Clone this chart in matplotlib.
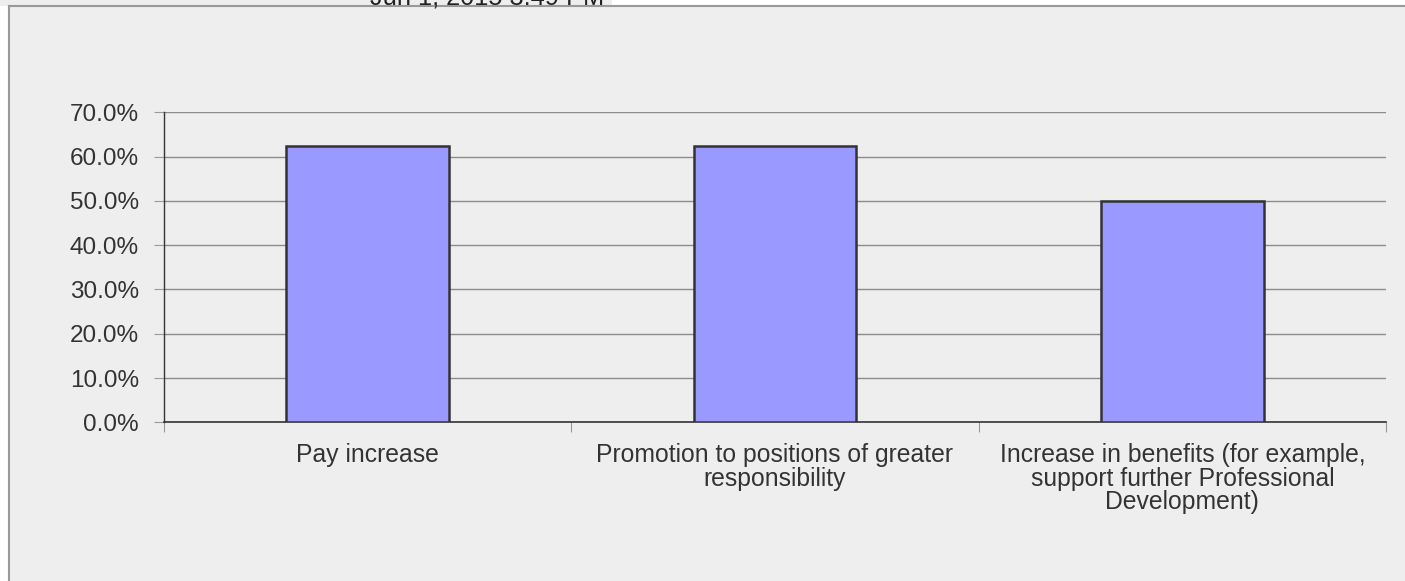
import matplotlib
matplotlib.use("Agg")
import matplotlib.pyplot as plt
from matplotlib.patches import Rectangle
from matplotlib.lines import Line2D

categories = [
    "Pay increase",
    "Promotion to positions of greater\nresponsibility",
    "Increase in benefits (for example,\nsupport further Professional\nDevelopment)",
]
values = [0.625, 0.625, 0.50]
yticks = [0.0, 0.1, 0.2, 0.3, 0.4, 0.5, 0.6, 0.7]
ytick_labels = ["0.0%", "10.0%", "20.0%", "30.0%", "40.0%", "50.0%", "60.0%", "70.0%"]
header_text = "Jun 1, 2015 3:49 PM"

plt.rcParams['font.family'] = ['Liberation Sans', 'DejaVu Sans']

W, H = 1405, 581
fig = plt.figure(figsize=(W / 100, H / 100), dpi=100, facecolor="white")

# top strip (clipped header)
fig.patches.append(Rectangle((0, 1 - 6 / H), 612 / W, 6 / H, transform=fig.transFigure,
                             facecolor="#eeeeee", edgecolor="none", zorder=-10))
fig.text(370 / W, 1 - 4 / H, header_text, fontsize=18.3, color="#222222",
         va="baseline", ha="left", zorder=-5)

# panel
fig.patches.append(Rectangle((9 / W, 0), 1 - 9 / W, 1 - 6 / H, transform=fig.transFigure,
                             facecolor="#eeeeee", edgecolor="none", zorder=-10))
fig.lines.append(Line2D([9 / W, 9 / W], [0, 1 - 6 / H], transform=fig.transFigure,
                        color="#999999", lw=1.5, zorder=-5))
fig.lines.append(Line2D([9 / W, 1], [1 - 6 / H, 1 - 6 / H], transform=fig.transFigure,
                        color="#999999", lw=1.5, zorder=-5))

ax = fig.add_axes([164 / W, (H - 422.3) / H, (1386 - 164) / W, (422.3 - 112.3) / H])
ax.set_facecolor("none")
ax.set_zorder(1)

x = list(range(len(categories)))
ax.bar(x, values, width=0.4, color="#9999ff", edgecolor="#333333", linewidth=1.8, zorder=3)

ax.set_xlim(-0.5, len(categories) - 0.5)
ax.set_ylim(0, 0.7)
ax.set_yticks(yticks)
ax.set_yticklabels(ytick_labels, fontsize=17.5, color="#333333")
ax.yaxis.grid(True, color="#8c8c8c", linewidth=1, zorder=0)
ax.set_axisbelow(True)

ax.set_xticks([i - 0.5 for i in range(len(categories) + 1)])
ax.set_xticklabels([])
ax.set_xticks(x, minor=True)
ax.set_xticklabels(categories, minor=True, fontsize=17.8, color="#333333", linespacing=0.98)
ax.tick_params(axis="x", which="minor", length=0, pad=15)
ax.tick_params(axis="x", which="major", length=7, color="#999999", direction="out")
ax.tick_params(axis="y", length=7, color="#999999", direction="out", pad=11)

for s in ["top", "right"]:
    ax.spines[s].set_visible(False)
ax.spines["left"].set_color("#333333")
ax.spines["bottom"].set_color("#333333")
ax.spines["left"].set_linewidth(1)
ax.spines["bottom"].set_linewidth(1.2)

fig.savefig("out.png", dpi=100, facecolor="white")
